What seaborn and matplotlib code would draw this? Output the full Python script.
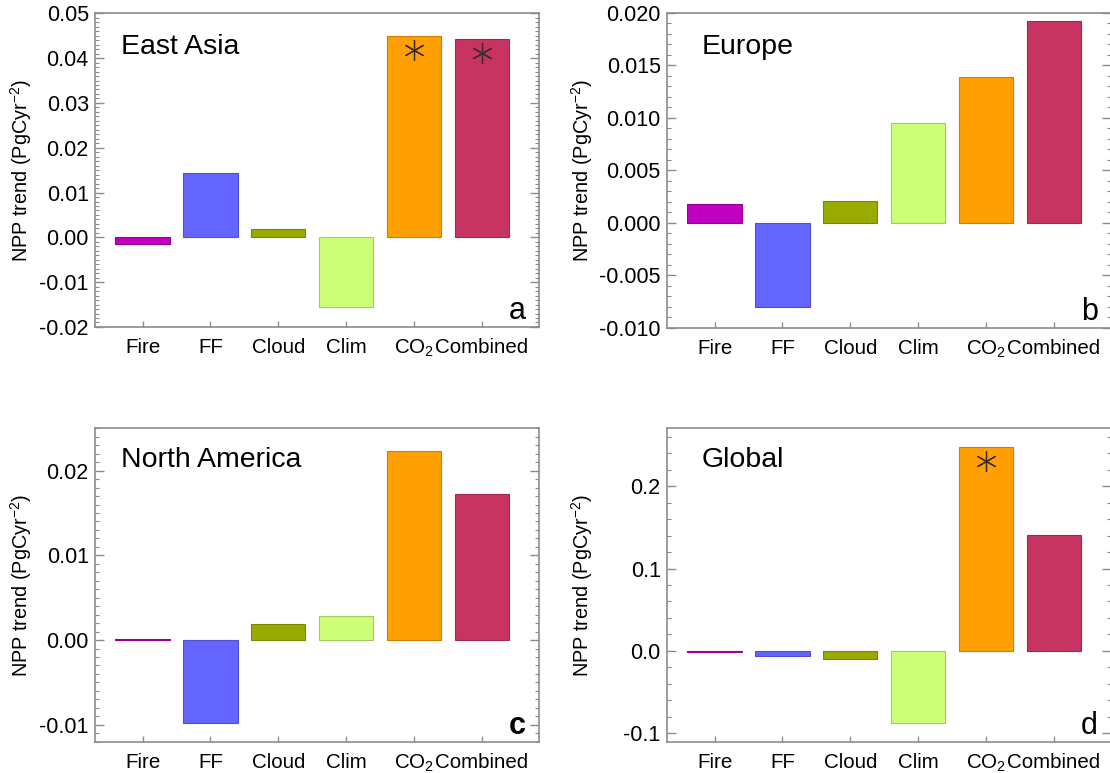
import matplotlib
matplotlib.use("Agg")
import matplotlib.pyplot as plt
from matplotlib.ticker import AutoMinorLocator, FormatStrFormatter, MultipleLocator
import matplotlib.colors as mcolors
import pandas as pd
import seaborn as sns

# Drivers of the NPP trend
categories = ["Fire", "FF", "Cloud", "Clim", "CO2", "Combined"]
tick_labels = ["Fire", "FF", "Cloud", "Clim", "CO$_2$", "Combined"]
colors = ["#C200C2", "#6464FF", "#99AA00", "#CCFF77", "#FF9F00", "#C83462"]

# NPP trend (PgC yr^-2) per region
east_asia = [-0.0015, 0.0144, 0.0018, -0.0156, 0.0450, 0.0442]
europe = [0.0018, -0.0080, 0.0021, 0.0095, 0.0139, 0.0192]
north_america = [0.0001, -0.0098, 0.0019, 0.0028, 0.0223, 0.0173]
global_npp = [-0.0008, -0.0065, -0.0097, -0.0879, 0.2474, 0.1405]

# Significance markers: (category, y position)
east_asia_stars = [("CO2", 0.0418), ("Combined", 0.0411)]
global_stars = [("CO2", 0.2304)]

sns.set_style("white")
plt.rcParams["font.family"] = ["Liberation Sans", "DejaVu Sans"]
plt.rcParams["mathtext.fontset"] = "custom"
plt.rcParams["mathtext.rm"] = "Liberation Sans"
plt.rcParams["mathtext.it"] = "Liberation Sans:italic"
plt.rcParams["axes.unicode_minus"] = False
plt.rcParams["text.color"] = "black"
plt.rcParams["axes.labelcolor"] = "black"
plt.rcParams["xtick.labelcolor"] = "black"
plt.rcParams["ytick.labelcolor"] = "black"

fig = plt.figure(figsize=(11.10, 7.73), dpi=100)

panels = [
    dict(vals=east_asia, name="East Asia", letter="a", ylim=(-0.02, 0.05), major=0.01, minor=10,
         fmt="%.2f", stars=east_asia_stars, pos=[0.0856, 0.5770, 0.400, 0.4058], lab_x=-0.138,
         name_x=0.058, name_y=0.893, bold=False),
    dict(vals=europe, name="Europe", letter="b", ylim=(-0.010, 0.020), major=0.005, minor=5,
         fmt="%.3f", stars=[], pos=[0.6009, 0.5757, 0.400, 0.4075], lab_x=-0.162,
         name_x=0.079, name_y=0.893, bold=False),
    dict(vals=north_america, name="North America", letter="c", ylim=(-0.012, 0.025), major=0.01, minor=10,
         fmt="%.2f", stars=[], pos=[0.0856, 0.0405, 0.400, 0.4054], lab_x=-0.138,
         name_x=0.058, name_y=0.899, bold=True),
    dict(vals=global_npp, name="Global", letter="d", ylim=(-0.11, 0.27), major=0.1, minor=5,
         fmt="%.1f", stars=global_stars, pos=[0.6009, 0.0405, 0.400, 0.4054], lab_x=-0.162,
         name_x=0.079, name_y=0.899, bold=False),
]

spine_col = "#8c8c8c"

for p in panels:
    ax = fig.add_axes(p["pos"])
    df = pd.DataFrame({"driver": categories, "trend": p["vals"]})
    sns.barplot(data=df, x="driver", y="trend", hue="driver", palette=colors,
                order=categories, hue_order=categories, width=0.8, legend=False,
                saturation=1, ax=ax)
    for patch, c in zip(ax.patches, colors):
        r, g, b = mcolors.to_rgb(c)
        patch.set_edgecolor((r * 0.8, g * 0.8, b * 0.8))
        patch.set_linewidth(0.8)

    for cat, yv in p["stars"]:
        ax.plot(categories.index(cat), yv, marker=(6, 2, 0), markersize=15,
                markeredgewidth=0.9, color="#3a2a2a", linestyle="none", zorder=5)

    ax.set_xlim(-0.70, 5.84)
    ax.set_ylim(*p["ylim"])
    ax.yaxis.set_major_locator(MultipleLocator(p["major"]))
    ax.yaxis.set_minor_locator(AutoMinorLocator(p["minor"]))
    ax.yaxis.set_major_formatter(FormatStrFormatter(p["fmt"]))
    ax.set_xticks(range(len(categories)))
    ax.set_xticklabels(tick_labels)
    ax.set_xlabel("")
    ax.set_ylabel("NPP trend (PgCyr$^{-2}$)", fontsize=14.3, color="black")
    ax.yaxis.set_label_coords(p["lab_x"], 0.5)

    for s in ax.spines.values():
        s.set_color(spine_col)
        s.set_linewidth(1.2)
        s.set_visible(True)

    ax.tick_params(axis="y", which="major", direction="in", left=True, right=True,
                   length=6.5, width=1, color=spine_col, labelcolor="black",
                   labelsize=15.5, pad=4.5)
    ax.tick_params(axis="y", which="minor", direction="in", left=True, right=True,
                   length=3, width=0.8, color=spine_col)
    ax.tick_params(axis="x", which="major", direction="in", bottom=True, top=False,
                   length=4.5, width=1, color=spine_col, labelcolor="black",
                   labelsize=14.8, pad=8)
    ax.tick_params(axis="x", which="minor", bottom=False, top=False)

    ax.text(p["name_x"], p["name_y"], p["name"], transform=ax.transAxes,
            fontsize=20.5, ha="left", va="center", color="black")
    ax.text(0.971, 0.026, p["letter"], transform=ax.transAxes, fontsize=22, color="black",
            ha="right", va="baseline", fontweight="bold" if p["bold"] else "normal")

fig.savefig("out.png", dpi=100)
